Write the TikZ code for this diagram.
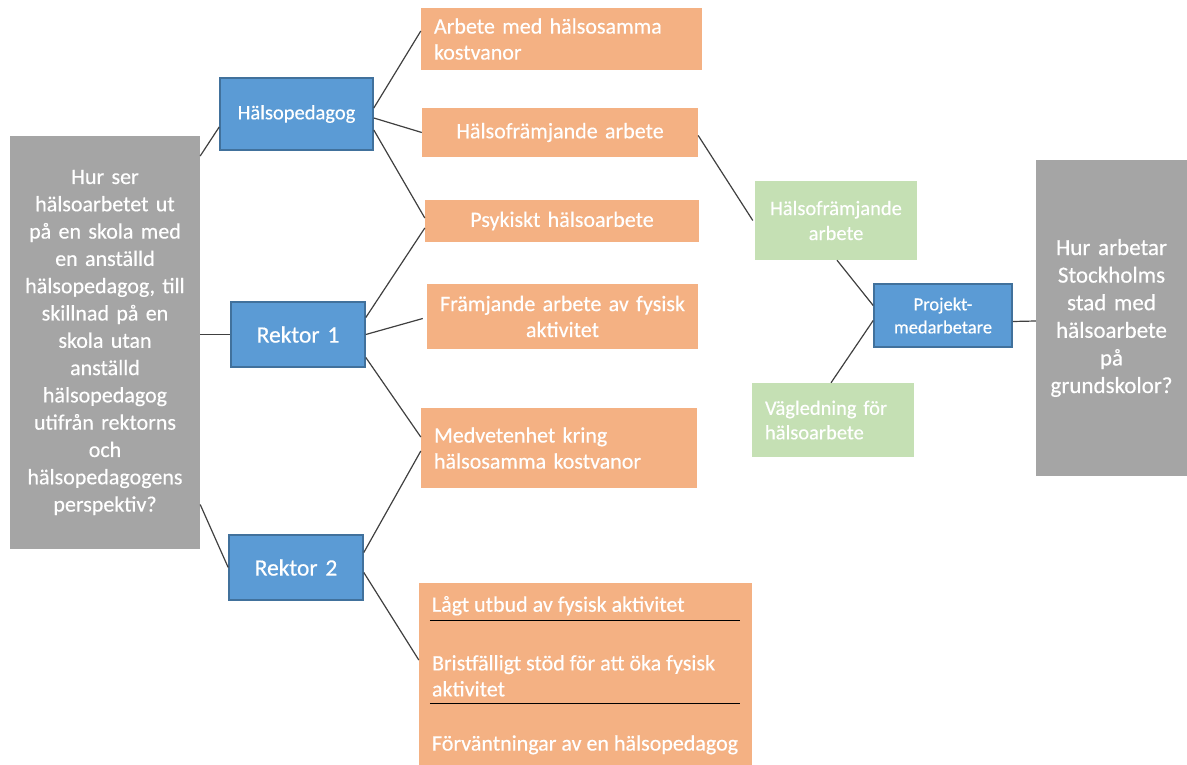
\documentclass[tikz,border=0pt]{standalone}
\usepackage{fontspec}
\setmainfont{Carlito}[FakeBold=0.4]
\usetikzlibrary{calc}
\definecolor{greybox}{HTML}{A5A5A5}
\definecolor{bluebox}{HTML}{5B9BD5}
\definecolor{blueedge}{HTML}{41719C}
\definecolor{orangebox}{HTML}{F4B183}
\definecolor{greenbox}{HTML}{C5E0B4}
\definecolor{linkcol}{HTML}{404040}
\tikzset{
  base/.style={inner xsep=6pt, inner ysep=0pt, text=white, anchor=center},
  qbox/.style={base, fill=greybox, align=center},
  bbox/.style={base, fill=bluebox, draw=blueedge, line width=1.6pt, align=center},
  obox/.style={base, fill=orangebox},
  gbox/.style={base, fill=greenbox},
  link/.style={draw=linkcol, line width=1.2pt},
  sep/.style={draw=black, line width=1.1pt},
  intext/.style={inner sep=0pt, text=white, anchor=west, align=left},
  fs/.style={font=\fontsize{22}{26}\selectfont}
}
\begin{document}
\begin{tikzpicture}[x=1pt,y=-1pt]
\useasboundingbox (0,0) rectangle (1187,765);

% left and right questions
\node[qbox, text width=186pt, minimum height=413pt, inner xsep=2pt, font=\fontsize{22}{27.3}\selectfont] (q1) at (105,342.5)
 {Hur ser\\hälsoarbetet ut\\på en skola med\\en anställd\\hälsopedagog, till\\skillnad på en\\skola utan\\anställd\\hälsopedagog\\utifrån rektorns\\och\\hälsopedagogens\\perspektiv?};
\node[qbox, text width=147pt, minimum height=316pt, inner xsep=2pt, font=\fontsize{23}{27.6}\selectfont] (q2) at (1111.5,318)
 {Hur arbetar\\Stockholms\\stad med\\hälsoarbete\\på\\grundskolor?};

% blue nodes
\node[bbox, text width=141pt, minimum height=72pt, font=\fontsize{20.5}{24}\selectfont] (hp) at (296.5,114) {Hälsopedagog};
\node[bbox, text width=122pt, minimum height=65pt, font=\fontsize{23.5}{26}\selectfont] (r1) at (298,334.5) {Rektor 1};
\node[bbox, text width=122pt, minimum height=65pt, font=\fontsize{23.5}{26}\selectfont] (r2) at (296,567.5) {Rektor 2};
\node[bbox, text width=130pt, minimum height=63pt, inner xsep=4pt, font=\fontsize{18.5}{23}\selectfont] (pm) at (943,315.5) {Projekt-\\medarbetare};

% orange nodes
\node[obox, fs, text width=255pt, minimum height=62pt, align=left, inner xsep=13pt] (o1) at (561.5,39) {Arbete med hälsosamma\\kostvanor};
\node[obox, fs, text width=264pt, minimum height=49pt, align=center] (o2) at (560,132.5) {Hälsofrämjande arbete};
\node[obox, fs, text width=262pt, minimum height=42pt, align=center] (o3) at (562,221) {Psykiskt hälsoarbete};
\node[obox, fs, text width=263pt, minimum height=65pt, inner xsep=4pt, align=center] (o4) at (562.5,316.5) {Främjande arbete av fysisk\\aktivitet};
\node[obox, fs, text width=250pt, minimum height=80pt, align=left, inner xsep=13pt] (o5) at (559,448) {Medvetenhet kring\\hälsosamma kostvanor};
\node[obox, minimum width=333pt, minimum height=182pt] (o6) at (585.5,674) {};

% texts inside the bottom box
\node[intext, fs] (t1) at ($(o6.north west)+(13,23)$) {Lågt utbud av fysisk aktivitet};
\node[intext, fs] (t2) at ($(o6.north west)+(13,93)$) {Bristfälligt stöd för att öka fysisk\\aktivitet};
\node[intext, fs] (t3) at ($(o6.north west)+(13,162)$) {Förväntningar av en hälsopedagog};
\draw[sep] ($(o6.north west)+(11,38)$) -- ($(o6.north east)+(-12,38)$);
\draw[sep] ($(o6.north west)+(11,121)$) -- ($(o6.north east)+(-12,121)$);

% green nodes
\node[gbox, text width=154pt, minimum height=79pt, inner xsep=4pt, align=center, font=\fontsize{20.5}{25}\selectfont] (g1) at (836,220.5) {Hälsofrämjande\\arbete};
\node[gbox, text width=136pt, minimum height=74pt, align=left, inner xsep=13pt, inner ysep=0pt, font=\fontsize{20.5}{24.5}\selectfont] (g2) at (833,420) {\raisebox{3pt}{\parbox{136pt}{Vägledning för\\hälsoarbete}}};

% connectors
\draw[link] ([yshift=186.5pt]q1.east) -- ([yshift=-13pt]hp.west);
\draw[link] ([yshift=8pt]q1.east) -- (r1.west);
\draw[link] ([yshift=-162pt]q1.east) -- (r2.west);

\draw[link] ([yshift=6pt]hp.east) -- ([yshift=8pt]o1.west);
\draw[link] ([yshift=-4pt]hp.east) -- (o2.west);
\draw[link] ([yshift=-16pt]hp.east) -- ([yshift=3pt]o3.west);

\draw[link] ([yshift=17pt]r1.east) -- ([yshift=-7pt]o3.west);
\draw[link] (r1.east) -- ([yshift=-2pt,xshift=-4pt]o4.west);
\draw[link] ([yshift=-23pt]r1.east) -- ([yshift=11pt]o5.west);

\draw[link] ([yshift=15pt]r2.east) -- ([yshift=-3pt]o5.west);
\draw[link] ([yshift=-5pt]r2.east) -- ([yshift=14pt]o6.west);

\draw[link] ([yshift=-3pt]o2.east) -- ([xshift=-2pt]g1.west);
\draw[link] ([xshift=1pt]g1.south) -- ([yshift=10pt]pm.west);
\draw[link] ([xshift=-2pt]g2.north) -- ([yshift=-5pt]pm.west);
\draw[link] ([yshift=-6pt]pm.east) -- ([yshift=-3pt]q2.west);
\end{tikzpicture}
\end{document}
